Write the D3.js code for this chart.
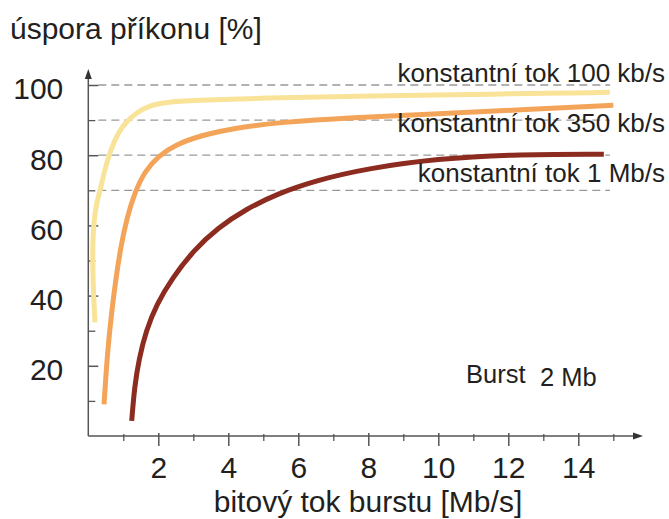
<!DOCTYPE html>
<html>
<head>
<meta charset="utf-8">
<script src="https://cdn.jsdelivr.net/npm/d3@7"></script>
<style>
  html, body { margin: 0; padding: 0; background: #fff; }
  svg text { font-family: "Liberation Sans", Arial, Helvetica, sans-serif; fill: #231f20; }
</style>
</head>
<body>
<svg id="chart" width="669" height="519"></svg>
<script>
// axis ticks
const xMajorTicks = [2, 4, 6, 8, 10, 12, 14];
const xMinorTicks = [1, 3, 5, 7, 9, 11, 13, 15];
const yMajorTicks = [20, 40, 60, 80, 100];
const yMinorTicks = [10, 30, 50, 70, 90];
const gridValues = [70, 80, 90, 100];

// series: burst bit rate [Mb/s] -> power saving [%]
const seriesNames = ['konstantní tok 100 kb/s', 'konstantní tok 350 kb/s', 'konstantní tok 1 Mb/s'];

const rate100x = [0.19, 0.15, 0.13, 0.125, 0.14, 0.175, 0.24, 0.34, 0.46, 0.62, 0.85, 1.1, 1.4, 1.75, 2.2, 3, 5, 8, 11.5, 14.9];
const rate100y = [32.4, 40, 47, 53, 58, 62.5, 66.5, 70, 75.5, 81, 86.5, 89.7, 92.3, 94.1, 95.1, 95.6, 96.3, 96.9, 97.4, 97.9];

const rate350x = [0.45, 0.5, 0.57, 0.67, 0.79, 0.93, 1.1, 1.33, 1.62, 2.0, 2.5, 3.2, 4.2, 5.5, 7.5, 10, 12.5, 15.0];
const rate350y = [9, 17, 26, 35.5, 45, 54, 62, 69.5, 75.5, 79.8, 83, 85.6, 87.8, 89.4, 90.7, 91.8, 93, 94.2];

const rate1Mx = [1.24, 1.32, 1.45, 1.65, 1.95, 2.4, 3.0, 3.7, 4.5, 5.4, 6.5, 8, 10, 12, 14.73];
const rate1My = [4.3, 14, 22, 30, 37.5, 45, 52.8, 59.3, 64.6, 69, 72.8, 76.3, 79, 80.2, 80.3];

const labelY = [81.7, 132.3, 181.7];
const colors = ['#f8e398', '#f3a458', '#8c2b1f'];

const svg = d3.select('#chart');

const x = d3.scaleLinear().domain([0, 15]).range([88.3, 613.3]);
const y = d3.scaleLinear().domain([0, 100]).range([436, 85]);

const axisColor = '#555';

// dashed gridlines
svg.append('g')
  .selectAll('line')
  .data(gridValues)
  .enter()
  .append('line')
  .attr('x1', x(0) + 10)
  .attr('x2', 610)
  .attr('y1', (d) => y(d))
  .attr('y2', (d) => y(d))
  .attr('stroke', '#999')
  .attr('stroke-width', 1.3)
  .attr('stroke-dasharray', '8,5');

// x axis
const xAxisG = svg.append('g').attr('transform', 'translate(0,' + y(0) + ')');
xAxisG.append('g')
  .call(d3.axisBottom(x).tickValues(xMinorTicks).tickSize(5).tickFormat(''))
  .call((g) => g.select('.domain').remove())
  .call((g) => g.selectAll('line').attr('y1', -2).attr('stroke', axisColor).attr('stroke-width', 1.3));
xAxisG.append('g')
  .call(d3.axisBottom(x).tickValues(xMajorTicks).tickSize(10).tickPadding(11))
  .call((g) => g.select('.domain').remove())
  .call((g) => g.selectAll('line').attr('y1', -3).attr('stroke', axisColor).attr('stroke-width', 1.5))
  .call((g) => g.selectAll('text').attr('font-size', 30).attr('font-family', null).attr('fill', '#231f20'));

// y axis
const yAxisG = svg.append('g').attr('transform', 'translate(' + x(0) + ',0)');
yAxisG.append('g')
  .call(d3.axisLeft(y).tickValues(yMinorTicks).tickSize(6).tickFormat(''))
  .call((g) => g.select('.domain').remove())
  .call((g) => g.selectAll('line').attr('x2', 7).attr('stroke', axisColor).attr('stroke-width', 1.3));
yAxisG.append('g')
  .call(d3.axisLeft(y).tickValues(yMajorTicks).tickSize(11).tickPadding(14))
  .call((g) => g.select('.domain').remove())
  .call((g) => g.selectAll('line').attr('x2', 10).attr('stroke', axisColor).attr('stroke-width', 1.5))
  .call((g) => g.selectAll('text').attr('font-size', 30).attr('dy', '0.46em').attr('font-family', null).attr('fill', '#231f20'));

// axis lines with arrow heads
svg.append('line')
  .attr('x1', x(0)).attr('x2', x(0))
  .attr('y1', y(0)).attr('y2', 76)
  .attr('stroke', axisColor).attr('stroke-width', 1.5);
svg.append('path')
  .attr('d', `M${x(0)},69 L${x(0) - 3.5},79 L${x(0) + 3.5},79 Z`)
  .attr('fill', '#333');
svg.append('line')
  .attr('x1', x(0)).attr('x2', 636)
  .attr('y1', y(0)).attr('y2', y(0))
  .attr('stroke', axisColor).attr('stroke-width', 1.5);
svg.append('path')
  .attr('d', `M643,${y(0)} L633,${y(0) - 3.5} L633,${y(0) + 3.5} Z`)
  .attr('fill', '#333');

// curves, smoothed through the read points
const seriesData = [
  d3.zip(rate100x, rate100y),
  d3.zip(rate350x, rate350y),
  d3.zip(rate1Mx, rate1My),
];
const line = d3.line()
  .x((p) => x(p[0]))
  .y((p) => y(p[1]))
  .curve(d3.curveBasis);

svg.append('g')
  .selectAll('path')
  .data(seriesData)
  .enter()
  .append('path')
  .attr('d', line)
  .attr('fill', 'none')
  .attr('stroke', (d, i) => colors[i])
  .attr('stroke-width', 5);

// series labels
svg.append('g')
  .selectAll('text')
  .data(seriesNames)
  .enter()
  .append('text')
  .attr('x', 665)
  .attr('y', (d, i) => labelY[i])
  .attr('text-anchor', 'end')
  .attr('font-size', 26)
  .text((d) => d);

// titles
svg.append('text')
  .attr('x', 10).attr('y', 38.5)
  .attr('font-size', 30)
  .text('úspora příkonu [%]');
svg.append('text')
  .attr('x', 368).attr('y', 512)
  .attr('text-anchor', 'middle')
  .attr('font-size', 30)
  .text('bitový tok burstu [Mb/s]');

// burst note
svg.append('text').attr('x', 466).attr('y', 383).attr('font-size', 25.5).text('Burst');
svg.append('text').attr('x', 540).attr('y', 386).attr('font-size', 25.5).text('2 Mb');
</script>
</body>
</html>
